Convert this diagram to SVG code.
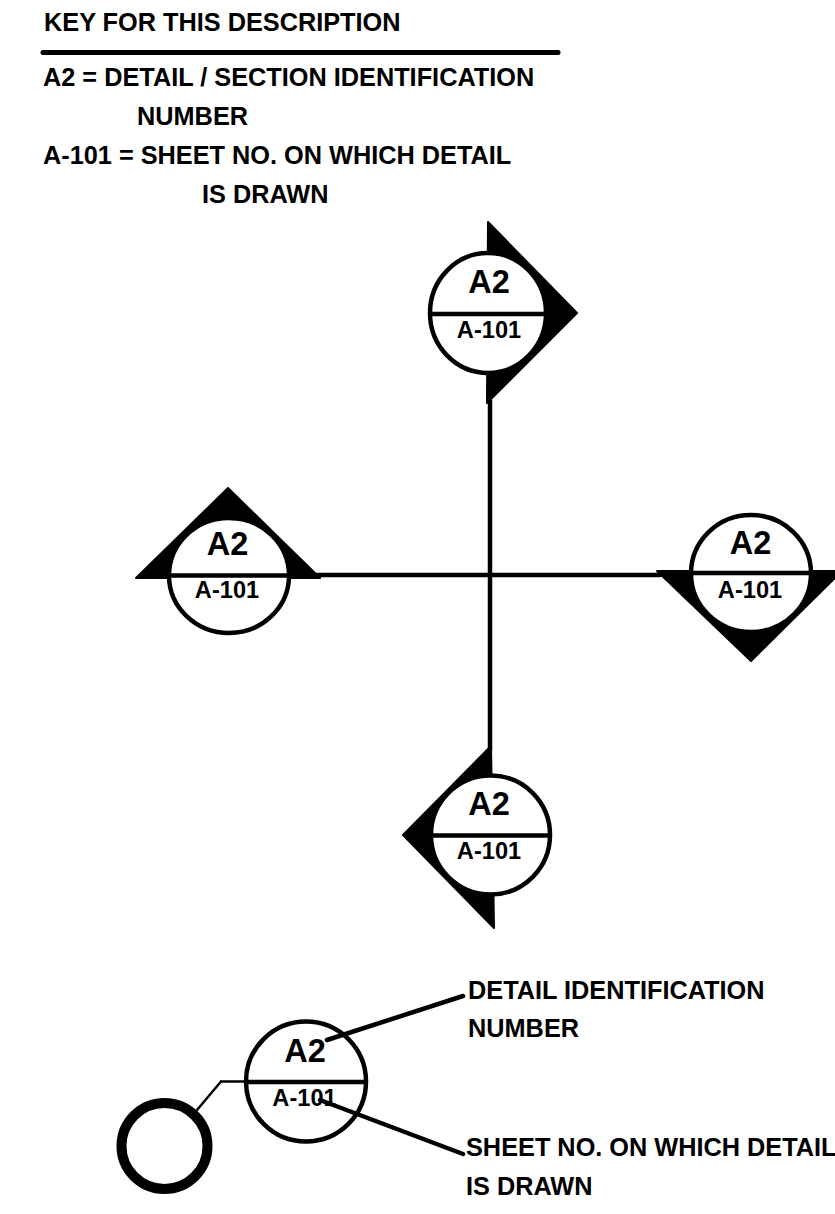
<svg xmlns="http://www.w3.org/2000/svg" width="835" height="1214" viewBox="0 0 835 1214">
<style>
text{font-family:"Liberation Sans",Arial,sans-serif;font-weight:bold;fill:#000}
.t{font-size:25.3px}
.a{font-size:32.5px;text-anchor:middle}
.s{font-size:23.6px;text-anchor:middle}
.c{fill:#fff;stroke:#000;stroke-width:4.5}
.l{fill:none;stroke:#000;stroke-width:4.5;stroke-linecap:round}
.b{fill:none;stroke:#000;stroke-width:4.5}
.h{fill:#000;stroke:#000;stroke-width:2;stroke-linejoin:round}
</style>
<rect width="835" height="1214" fill="#fff"/>
<g id="key-text">
<text class="t" x="44" y="31">KEY FOR THIS DESCRIPTION</text>
<line class="l" x1="43" y1="52.500" x2="558" y2="52.500" style="stroke-width:5"/>
<text class="t" x="43" y="86">A2 = DETAIL / SECTION IDENTIFICATION</text>
<text class="t" x="137" y="125">NUMBER</text>
<text class="t" x="43" y="164">A-101 = SHEET NO. ON WHICH DETAIL</text>
<text class="t" x="202" y="203">IS DRAWN</text>
</g>
<g id="connectors">
<line class="l" x1="490" y1="400" x2="490" y2="750"/>
<line class="l" x1="315" y1="575" x2="660" y2="575"/>
<line class="l" x1="221" y1="1081.500" x2="197" y2="1110" style="stroke-width:2.5"/>
<line class="l" x1="221" y1="1081.500" x2="250" y2="1081.500" style="stroke-width:2.5"/>
</g>
<g id="marker-top">
<polygon class="h" points="488,222 577,313 487,403"/>
<ellipse class="c" cx="488" cy="313" rx="58" ry="60"/>
<line class="b" x1="430" y1="314" x2="546" y2="314"/>
<text class="a" x="489" y="293">A2</text>
<text class="s" x="489" y="338">A-101</text>
</g>
<g id="marker-left">
<polygon class="h" points="136,578 228,488 320,578"/>
<ellipse class="c" cx="229" cy="575.500" rx="60" ry="57.500"/>
<line class="b" x1="169" y1="575.500" x2="289" y2="575.500"/>
<text class="a" x="227.500" y="555">A2</text>
<text class="s" x="227" y="598">A-101</text>
</g>
<g id="marker-right">
<polygon class="h" points="657,571 751,661 842,571"/>
<ellipse class="c" cx="751" cy="573.500" rx="60" ry="58.500"/>
<line class="b" x1="691" y1="573" x2="811" y2="573"/>
<text class="a" x="750.500" y="554">A2</text>
<text class="s" x="750" y="598">A-101</text>
</g>
<g id="marker-bottom">
<polygon class="h" points="403,835 491,746 494,928"/>
<circle class="c" cx="490.500" cy="835" r="59.500"/>
<line class="b" x1="431" y1="835.500" x2="550" y2="835.500"/>
<text class="a" x="489" y="815">A2</text>
<text class="s" x="489" y="859">A-101</text>
</g>
<g id="example">
<circle class="c" cx="306" cy="1081.500" r="60"/>
<line class="b" x1="246" y1="1082" x2="366" y2="1082"/>
<text class="a" x="305" y="1062">A2</text>
<text class="s" x="304.500" y="1106">A-101</text>
</g>
<g id="small-circle">
<circle cx="164.500" cy="1146" r="43" fill="#fff" stroke="#000" stroke-width="10"/>
</g>
<g id="leaders">
<line class="l" x1="327" y1="1040" x2="463" y2="996"/>
<line class="l" x1="320" y1="1100" x2="463" y2="1154"/>
</g>
<g id="labels">
<text class="t" x="468" y="999">DETAIL IDENTIFICATION</text>
<text class="t" x="468" y="1037">NUMBER</text>
<text class="t" x="466" y="1156">SHEET NO. ON WHICH DETAIL</text>
<text class="t" x="466" y="1195">IS DRAWN</text>
</g>
</svg>
